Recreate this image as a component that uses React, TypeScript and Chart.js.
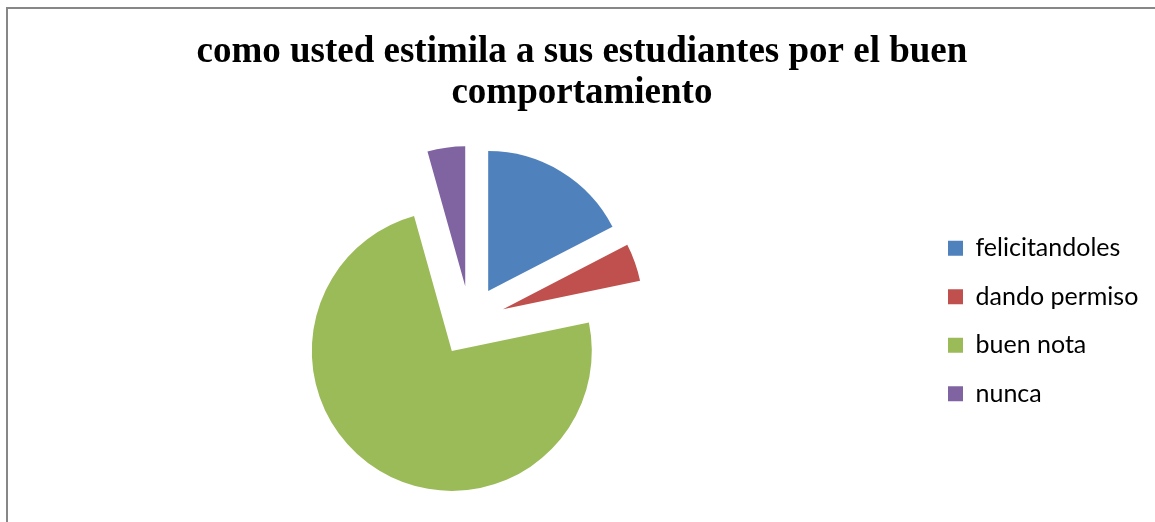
import { useEffect, useRef } from 'react';
import { Chart, registerables } from 'chart.js';

Chart.register(...registerables);

// ---- data ----
const TITLE_LINES = ['como usted estimila a sus estudiantes por el buen', 'comportamiento'];
const CATEGORIES = ['felicitandoles', 'dando permiso', 'buen nota', 'nunca'];
const VALUES = [4, 1, 17, 1];
const COLORS = ['#4F81BD', '#C0504D', '#9BBB59', '#8064A2'];

// ---- layout / style ----
const W = 1155;
const H = 522;
const TITLE_FONT = '"Liberation Serif", "Times New Roman", serif';
const TITLE_SIZE = 37;
const LEGEND_FONT = 'Lato, "Open Sans", sans-serif';
const LEGEND_SIZE = 25;
const LEGEND_PADDING = 23.5;
const BOX = 15;
const LEGEND_LEFT = 924.5;
const PAD_LEFT = 15.5;
const PIE_RADIUS = 140;
const EXPLODE = 35;

const explodePlugin = {
  id: 'explodeSlices',
  beforeDatasetDraw(chart: any, args: any) {
    const ctx = chart.ctx;
    args.meta.data.forEach((arc: any) => {
      const mid = (arc.startAngle + arc.endAngle) / 2;
      ctx.save();
      ctx.translate(Math.cos(mid) * EXPLODE, Math.sin(mid) * EXPLODE);
      arc.draw(ctx);
      ctx.restore();
    });
    return false;
  },
};

export default function App() {
  const ref = useRef<HTMLCanvasElement | null>(null);

  useEffect(() => {
    if (!ref.current) return;
    const m = document.createElement('canvas').getContext('2d')!;
    m.font = `${LEGEND_SIZE}px ${LEGEND_FONT}`;
    const textW = Math.max(...CATEGORIES.map((c) => m.measureText(c).width));
    const legendW = LEGEND_PADDING + BOX + LEGEND_SIZE / 2 + textW + 10;
    const padRight = Math.max(0, W - LEGEND_LEFT - legendW);

    const chart = new Chart(ref.current, {
      type: 'pie',
      data: {
        labels: CATEGORIES,
        datasets: [
          {
            data: VALUES,
            backgroundColor: COLORS,
            borderWidth: 0,
          },
        ],
      },
      plugins: [explodePlugin],
      options: {
        responsive: false,
        animation: false,
        radius: PIE_RADIUS,
        layout: { padding: { left: PAD_LEFT, right: padRight, top: 0, bottom: 0 } },
        plugins: {
          title: {
            display: true,
            text: TITLE_LINES,
            color: '#000',
            font: { family: TITLE_FONT, size: TITLE_SIZE, weight: 'bold', lineHeight: 1.1 },
            padding: { top: 32, bottom: 6.6 },
          },
          legend: {
            position: 'right',
            align: 'center',
            fullSize: false,
            labels: {
              boxWidth: BOX,
              boxHeight: BOX,
              padding: LEGEND_PADDING,
              color: '#000',
              font: { family: LEGEND_FONT, size: LEGEND_SIZE },
            },
          },
          tooltip: { enabled: false },
        },
      } as any,
    });
    return () => chart.destroy();
  }, []);

  return (
    <div
      style={{
        position: 'fixed',
        left: 0,
        top: 0,
        width: W,
        height: H,
        overflow: 'hidden',
        background: '#fff',
      }}
    >
      <div
        style={{
          position: 'absolute',
          left: 6,
          top: 7,
          width: W + 20,
          height: H + 20,
          borderLeft: '2px solid #878787',
          borderTop: '2px solid #878787',
        }}
      />
      <canvas
        ref={ref}
        width={W}
        height={H}
        style={{ position: 'absolute', left: 0, top: 0, width: W, height: H }}
      />
    </div>
  );
}
